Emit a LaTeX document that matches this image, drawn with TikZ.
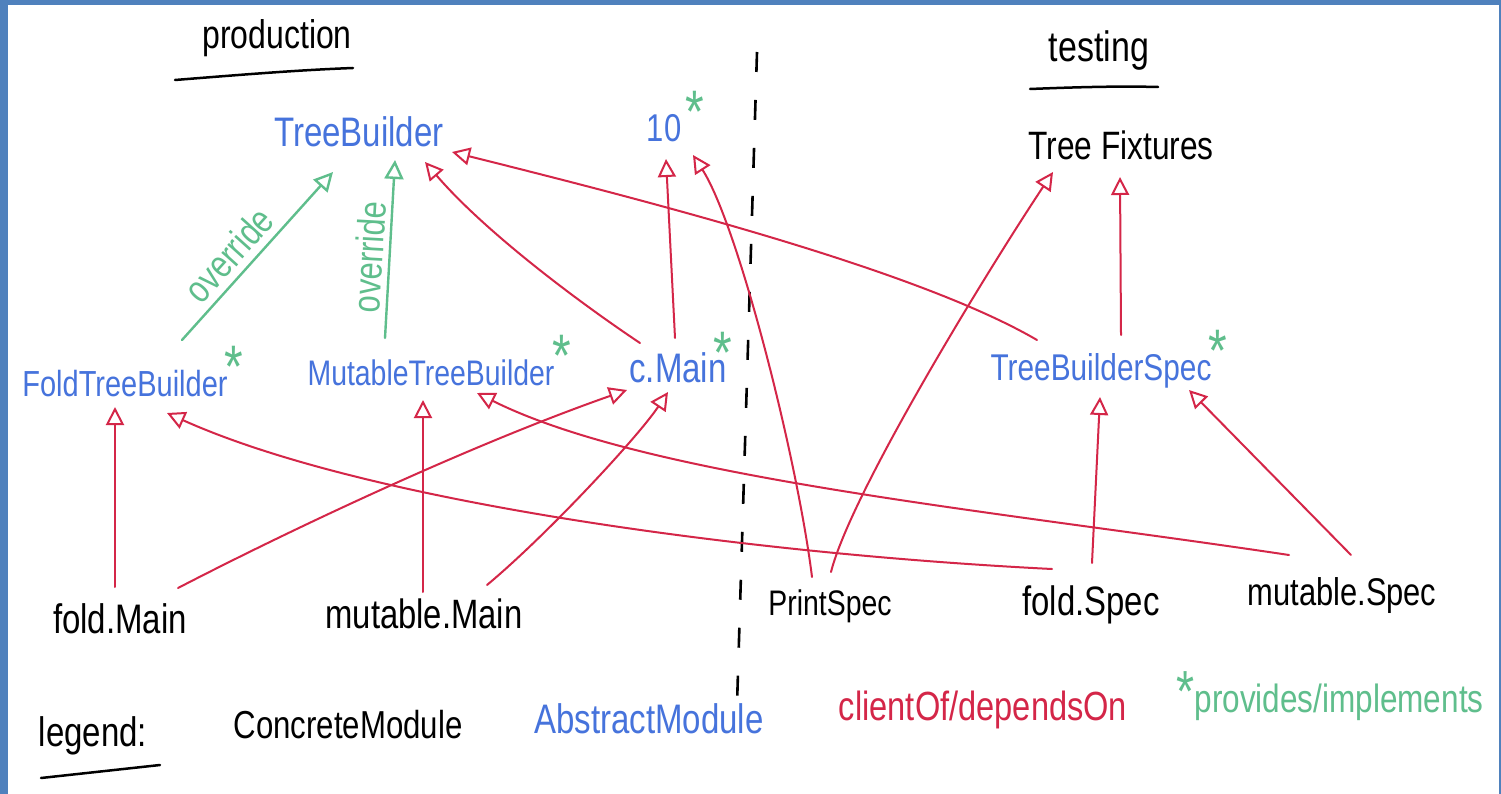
\documentclass[tikz,border=0pt]{standalone}
\usepackage{fontspec}
\setmainfont[FakeStretch=0.8]{Liberation Sans}
\usetikzlibrary{arrows.meta,calc}
\definecolor{framecol}{RGB}{79,129,189}
\definecolor{absblue}{RGB}{70,115,220}
\definecolor{dep}{RGB}{212,38,72}
\definecolor{impl}{RGB}{95,190,140}
\newcommand{\fsz}[1]{\fontsize{#1}{#1}\selectfont}
\newcommand{\impstar}[1][0pt]{\rlap{\smash{\hspace{#1}\raisebox{9pt}{\textcolor{impl}{\fsz{60}*}}}}}
\begin{document}
\begin{tikzpicture}[x=1pt,y=-1pt,
  txt/.style={inner sep=0pt, anchor=base},
  concmod/.style={txt, text=black},
  absmod/.style={txt, text=absblue},
  depends/.style={draw=dep, line width=2pt, line cap=round, -{Triangle[open,length=18pt,width=18pt]}},
  over/.style={draw=impl, line width=2.4pt, line cap=round, -{Triangle[open,length=19pt,width=19pt]}},
  lbl/.style={text=impl, font=\fsz{38.5}, inner sep=2pt},
  sep/.style={draw=black, line width=2.6pt, dash pattern=on 20pt off 28pt},
  uline/.style={draw=black, line width=2.5pt, line cap=round}
]
\useasboundingbox (0,0) rectangle (1501,794);
\fill[framecol] (0,0) rectangle (1501,794);
\fill[white] (8,5) rectangle (1499,794);

% headings
\node[concmod, font=\fsz{40}] (prod) at (277,49) {production};
\node[concmod, font=\fsz{42.5}] (test) at (1099,62) {testing};
\draw[uline] (175,80) .. controls (250,74) and (300,70) .. (353,68);
\draw[uline] (1030,89) .. controls (1080,87) and (1120,86) .. (1158,87);
\draw[sep] (757,52) -- (737,705);

% modules
\node[absmod, font=\fsz{41.25}] (TB) at (359,147) {TreeBuilder};
\node[absmod, font=\fsz{38.75}] (IO) at (664,142) {10\impstar[4pt]};
\node[concmod, font=\fsz{39.6}] (TF) at (1121,160) {Tree Fixtures};
\node[absmod, font=\fsz{36.25}] (FTB) at (125,396) {FoldTreeBuilder\impstar[-3pt]};
\node[absmod, font=\fsz{35.5}] (MTB) at (431,385) {MutableTreeBuilder\impstar[-2pt]};
\node[absmod, font=\fsz{41.25}] (cMain) at (678,382) {c.Main\impstar[-13pt]};
\node[absmod, font=\fsz{37.25}] (TBS) at (1101,380) {TreeBuilderSpec\impstar[-3pt]};
\node[concmod, font=\fsz{41.25}] (foldMain) at (120,633) {fold.Main};
\node[concmod, font=\fsz{41}] (mutMain) at (424,628) {mutable.Main};
\node[concmod, font=\fsz{35.5}] (printSpec) at (830,615) {PrintSpec};
\node[concmod, font=\fsz{41.1}] (foldSpec) at (1091,615) {fold.Spec};
\node[concmod, font=\fsz{38.6}] (mutSpec) at (1342,605) {mutable.Spec};

% legend
\node[concmod, font=\fsz{41.25}] (legend) at (93,746) {legend:};
\draw[uline] (41,778) -- (160,765);
\node[concmod, font=\fsz{39}] (concrete) at (348,738) {ConcreteModule};
\node[absmod, font=\fsz{41.25}] (abstract) at (649,733) {AbstractModule};
\node[txt, text=dep, font=\fsz{40.75}] (client) at (983,720) {clientOf/dependsOn};
\node[txt, text=impl, font=\fsz{39.4}] (provides) at (1330,712) {\smash{\raisebox{1pt}{\fsz{58}*}}provides/implements};

% override (green)
\draw[over] ($(FTB.base)+(57,-56)$) -- node[lbl, sloped, above=5pt, pos=.42] {override} ($(TB.base)+(-26,25)$);
\draw[over] ($(MTB.base)+(-46,-47)$) -- node[lbl, sloped, above=3pt, pos=.45] {override} ($(TB.base)+(36,13)$);

% clientOf / dependsOn (red)
\draw[depends] ($(foldMain.base)+(-5,-46)$) -- ($(FTB.base)+(-10,11)$);
\draw[depends] ($(foldMain.base)+(58,-45)$) .. controls +(112,-58) and +(-157,55) .. ($(cMain.base)+(-51,8)$);
\draw[depends] ($(mutMain.base)+(-1,-36)$) -- ($(MTB.base)+(-8,15)$);
\draw[depends] ($(mutMain.base)+(63,-43)$) .. controls +(60,-50) and +(-30,45) .. ($(cMain.base)+(-10,10)$);
\draw[depends] ($(foldSpec.base)+(-39,-46)$) .. controls +(-300,-15) and +(200,90) .. ($(FTB.base)+(42,17)$);
\draw[depends] ($(mutSpec.base)+(-53,-50)$) .. controls +(-300,-45) and +(170,85) .. ($(MTB.base)+(46,8)$);
\draw[depends] ($(foldSpec.base)+(1,-52)$) -- ($(TBS.base)+(-1,17)$);
\draw[depends] ($(mutSpec.base)+(9,-50)$) -- ($(TBS.base)+(88,10)$);
\draw[depends] ($(TBS.base)+(-64,-40)$) .. controls +(-120,-70) and +(200,50) .. ($(TB.base)+(93,5)$);
\draw[depends] ($(TBS.base)+(20,-45)$) -- ($(TF.base)+(-1,17)$);
\draw[depends] ($(printSpec.base)+(1,-43)$) .. controls +(20,-80) and +(-60,90) .. ($(TF.base)+(-68,12)$);
\draw[depends] ($(printSpec.base)+(-18,-38)$) .. controls +(-15,-120) and +(45,70) .. ($(IO.base)+(29,13)$);
\draw[depends] ($(cMain.base)+(-3,-44)$) -- ($(IO.base)+(2,17)$);
\draw[depends] ($(cMain.base)+(-38,-39)$) .. controls +(-60,-40) and +(60,70) .. ($(TB.base)+(66,15)$);
\end{tikzpicture}
\end{document}
